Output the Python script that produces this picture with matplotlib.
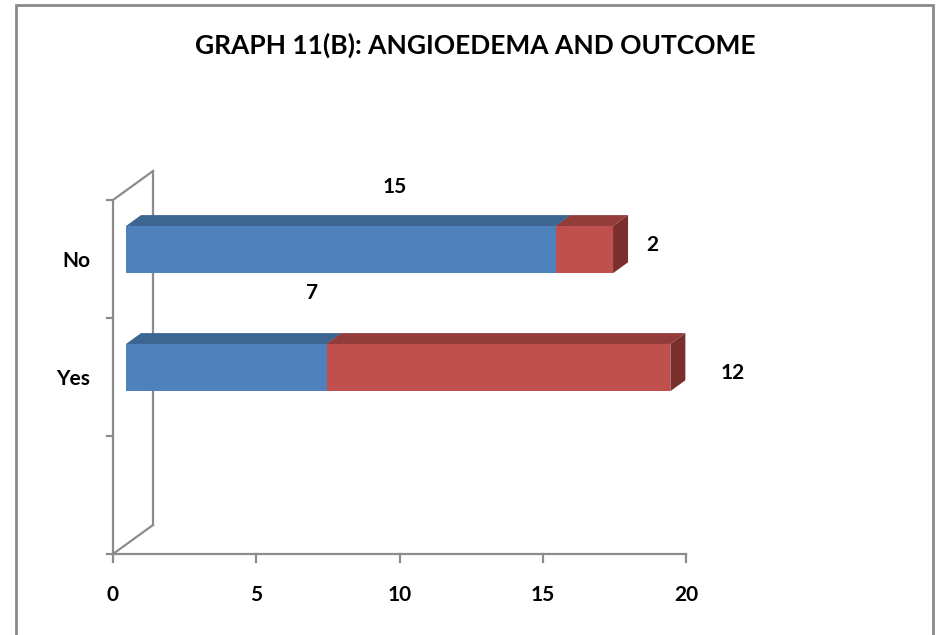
import matplotlib
matplotlib.use("Agg")
import matplotlib.pyplot as plt
from matplotlib.patches import Polygon, Rectangle

plt.rcParams['font.family'] = ['Lato', 'DejaVu Sans']

# Data
categories = ["No", "Yes"]
recovered = [15, 7]      # blue series
adverse = [2, 12]        # red series
x_ticks = [0, 5, 10, 15, 20]

# Per-label text offsets (data units) from the segment centre
label_offsets = {
    ("No", 0): (2.34, 0.61),
    ("No", 1): (2.81, 0.12),
    ("Yes", 0): (3.45, 0.71),
    ("Yes", 1): (8.64, 0.03),
}

W, H = 937, 635
fig = plt.figure(figsize=(W / 100, H / 100), dpi=100)

# Outer chart border
fig.patches.append(Rectangle((16 / W, -0.02), (933 - 16) / W, (H - 5) / H + 0.02,
                             transform=fig.transFigure, fill=False,
                             edgecolor="#8a8a8a", linewidth=2.0))

ax = fig.add_axes([113 / W, (H - 554) / H, (686 - 113) / W, (554 - 200) / H])
ax.set_xlim(0, 20)
ax.set_ylim(0, 3)
ax.axis("off")

# 3D depth vector in data units
DX, DY = 40 / 28.65, 29 / 118.0
F0, F1 = 0.325, 0.70          # front / back depth fractions of the bars
BAR_H = 0.4

axis_col = "#8c8c8c"
lw_axis = 1.6
fs = 15

# Walls / axis frame
ax.plot([0, 0], [0, 3], color=axis_col, lw=lw_axis, clip_on=False, zorder=1)
ax.plot([DX, DX], [DY, 3 + DY], color=axis_col, lw=lw_axis, clip_on=False, zorder=1)
ax.plot([0, DX], [3, 3 + DY], color=axis_col, lw=lw_axis, clip_on=False, zorder=1)
ax.plot([0, DX], [0, DY], color=axis_col, lw=lw_axis, clip_on=False, zorder=1)
ax.plot([0, 20], [0, 0], color=axis_col, lw=lw_axis, clip_on=False, zorder=1)

# Tick marks
tick_len_x = 6 / 28.65
tick_len_y = 8 / 118.0
for yv in range(0, 4):
    ax.plot([-tick_len_x, 0], [yv, yv], color=axis_col, lw=lw_axis, clip_on=False, zorder=1)
for xv in x_ticks:
    ax.plot([xv, xv], [0, -tick_len_y], color=axis_col, lw=lw_axis, clip_on=False, zorder=1)
    ax.text(xv, -0.347, str(xv), ha="center", va="center", fontsize=fs,
            fontweight="bold", color="black")

colors = {
    0: dict(front="#4f81bd", top="#3d6592", side="#2f4f73"),
    1: dict(front="#c0504d", top="#943c3a", side="#7a2f2d"),
}

y_pos = {"No": 2.5, "Yes": 1.5}

z = 5
for ci, cat in enumerate(categories):
    yc = y_pos[cat]
    y0, y1 = yc - BAR_H / 2, yc + BAR_H / 2
    start = 0.0
    for si, vals in enumerate([recovered, adverse]):
        v = vals[ci]
        a, b = start, start + v
        fx, fy = F0 * DX, F0 * DY
        bx, by = F1 * DX, F1 * DY
        c = colors[si]
        top = Polygon([(a + fx, y1 + fy), (b + fx, y1 + fy), (b + bx, y1 + by), (a + bx, y1 + by)],
                      closed=True, facecolor=c["top"], edgecolor="none", zorder=z, clip_on=False)
        side = Polygon([(b + fx, y0 + fy), (b + bx, y0 + by), (b + bx, y1 + by), (b + fx, y1 + fy)],
                       closed=True, facecolor=c["side"], edgecolor="none", zorder=z, clip_on=False)
        front = Polygon([(a + fx, y0 + fy), (b + fx, y0 + fy), (b + fx, y1 + fy), (a + fx, y1 + fy)],
                        closed=True, facecolor=c["front"], edgecolor="none", zorder=z + 1, clip_on=False)
        for p in (top, side, front):
            ax.add_patch(p)
        z += 2
        ox, oy = label_offsets[(cat, si)]
        ax.text((a + b) / 2 + ox, yc + oy, str(v), ha="center", va="center",
                fontsize=fs, fontweight="bold", color="black", zorder=20)
        start = b

    ax.text(-0.80, yc - 0.02, cat, ha="right", va="center", fontsize=fs,
            fontweight="bold", color="black")

fig.text(475 / W, 1 - 45 / H, "GRAPH 11(B): ANGIOEDEMA AND OUTCOME", ha="center",
         va="center", fontsize=19, fontweight="bold", color="black")

fig.savefig("out.png", dpi=100, facecolor="white")
